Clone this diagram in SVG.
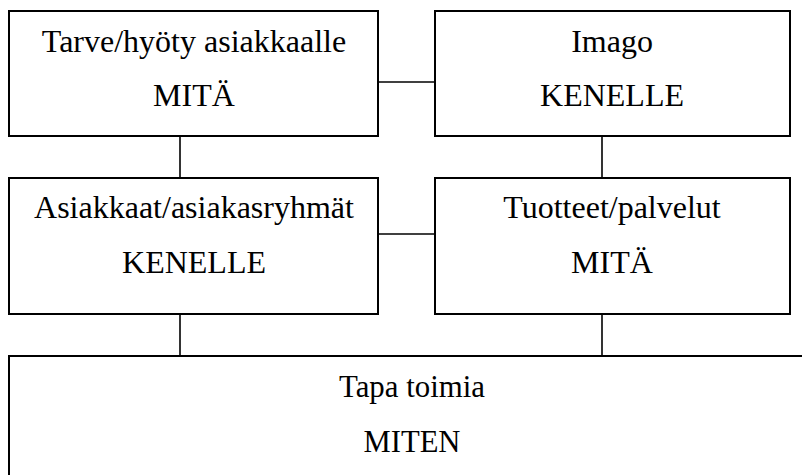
<svg xmlns="http://www.w3.org/2000/svg" width="802" height="475" viewBox="0 0 802 475">
  <style>
    .box { fill: #ffffff; stroke: #000000; stroke-width: 2; }
    .link { stroke: #000000; stroke-width: 1.6; fill: none; }
    .label { font-size: 32px; fill: #000000; text-anchor: middle; }
  </style>
  <rect width="802" height="475" fill="#ffffff"/>

  <!-- connectors -->
  <g id="connectors">
    <line class="link" x1="378" y1="82" x2="435" y2="82"/>
    <line class="link" x1="180" y1="136" x2="180" y2="178"/>
    <line class="link" x1="602" y1="136" x2="602" y2="178"/>
    <line class="link" x1="378" y1="234" x2="435" y2="234"/>
    <line class="link" x1="180" y1="314" x2="180" y2="356"/>
    <line class="link" x1="602" y1="314" x2="602" y2="356"/>
  </g>

  <g font-family="'Liberation Serif', 'Times New Roman', 'DejaVu Serif', serif">
    <g id="tarve">
      <rect class="box" x="9" y="11" width="369" height="125"/>
      <text class="label" x="194" y="52">Tarve/hyöty asiakkaalle</text>
      <text class="label" x="194" y="106">MITÄ</text>
    </g>

    <g id="imago">
      <rect class="box" x="435" y="11" width="355" height="125"/>
      <text class="label" x="612" y="52">Imago</text>
      <text class="label" x="612" y="106">KENELLE</text>
    </g>

    <g id="asiakkaat">
      <rect class="box" x="9" y="178" width="369" height="136"/>
      <text class="label" x="194" y="218">Asiakkaat/asiakasryhmät</text>
      <text class="label" x="194" y="273">KENELLE</text>
    </g>

    <g id="tuotteet">
      <rect class="box" x="435" y="178" width="355" height="136"/>
      <text class="label" x="612" y="218">Tuotteet/palvelut</text>
      <text class="label" x="612" y="273">MITÄ</text>
    </g>

    <g id="tapa">
      <rect class="box" x="9" y="356" width="806" height="130"/>
      <text class="label" x="412" y="397" textLength="146" lengthAdjust="spacingAndGlyphs">Tapa toimia</text>
      <text class="label" x="412" y="452" textLength="97" lengthAdjust="spacingAndGlyphs">MITEN</text>
    </g>
  </g>
</svg>
